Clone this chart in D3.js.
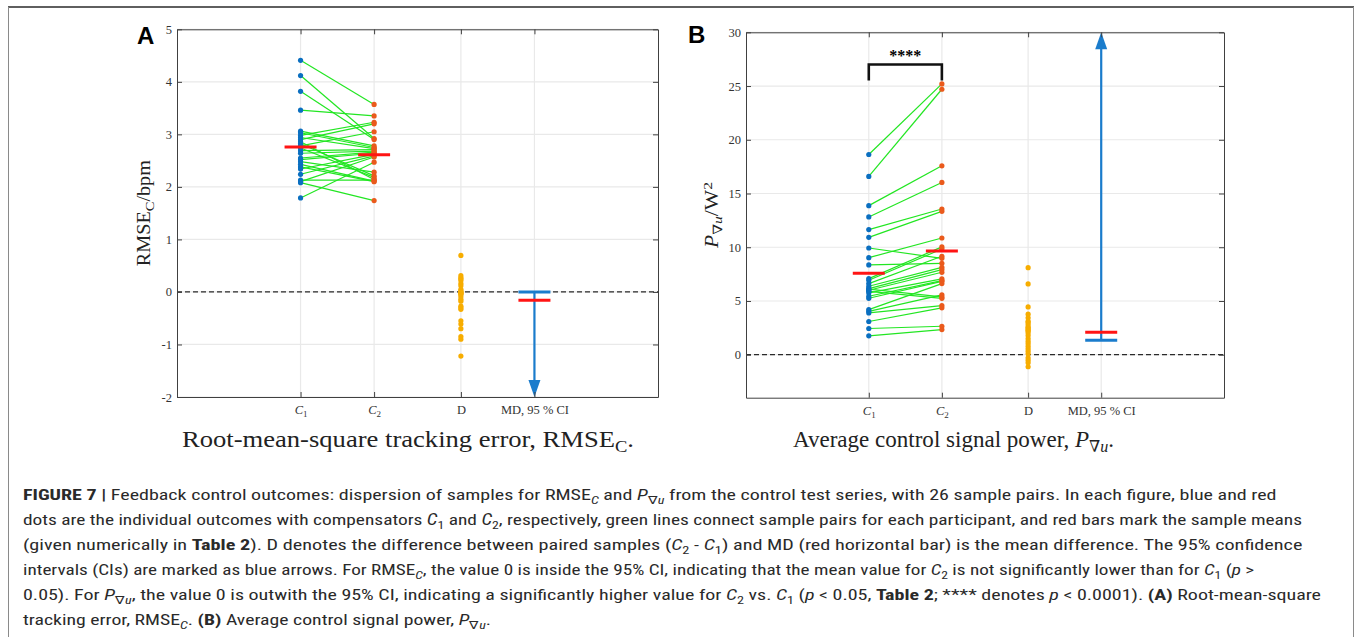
<!DOCTYPE html>
<html><head><meta charset="utf-8">
<script src="https://cdn.jsdelivr.net/npm/d3@7"></script>
<style>body{margin:0;background:#fff} svg{display:block}</style>
</head><body>
<svg id="c" width="1354" height="637"></svg>
<script>
// ---------- DATA ----------
const categories = ["C1", "C2", "D", "MD, 95 % CI"];
// Panel A : RMSE_C (bpm)
const rmseC1 = [4.41, 4.12, 3.82, 3.46, 2.86, 2.82, 2.74, 1.79, 2.08, 2.38, 2.43, 2.98, 2.90, 2.78, 2.48, 2.13, 3.06, 3.03, 2.94, 2.69, 2.64, 2.55, 2.52, 2.34, 2.24, 2.10];
const rmseC2 = [3.57, 2.92, 2.90, 3.35, 2.14, 2.21, 2.18, 2.47, 1.74, 2.10, 2.11, 3.23, 3.20, 3.05, 2.28, 2.13, 2.78, 2.75, 2.73, 2.71, 2.68, 2.66, 2.64, 2.62, 2.59, 2.57];
const rmseD  = [0.695, 0.31, 0.27, 0.25, 0.22, 0.16, 0.12, 0.05, 0.02, 0.0, -0.01, -0.03, -0.03, -0.05, -0.09, -0.14, -0.175, -0.27, -0.30, -0.33, -0.55, -0.61, -0.70, -0.85, -0.90, -1.22];
const rmseMeans = [2.76, 2.61];
const rmseMD = -0.16;
const rmseCI = [-2.6, 0.0];
const rmseTicks = [-2, -1, 0, 1, 2, 3, 4, 5];
// Panel B : P_grad u (W^2)
const powC1 = [18.63, 16.59, 13.87, 12.82, 11.64, 10.92, 9.93, 9.03, 8.35, 7.08, 6.93, 6.62, 6.37, 6.15, 6.10, 6.00, 5.90, 5.75, 5.44, 5.25, 4.20, 4.04, 3.89, 3.09, 2.44, 1.76];
const powC2 = [25.2, 24.7, 17.58, 16.03, 13.56, 13.34, 8.97, 10.86, 8.50, 10.03, 9.84, 9.16, 8.13, 7.92, 5.38, 7.67, 5.25, 7.05, 6.90, 6.83, 6.62, 5.57, 4.57, 4.36, 2.65, 2.34];
const powD   = [8.10, 6.59, 4.45, 3.77, 3.43, 3.12, 3.00, 2.81, 2.60, 2.50, 2.40, 2.28, 2.20, 2.03, 1.78, 1.51, 1.26, 1.04, 0.79, 0.55, 0.33, 0.08, -0.29, -0.51, -0.75, -1.12];
const powMeans = [7.58, 9.65];
const powMD = 2.09;
const powCI = [1.35, 31];
const powTicks = [0, 5, 10, 15, 20, 25, 30];
const powSig = {level: 27, label: "****"};

// ---------- LAYOUT ----------
const xCat = [1, 2, 3.18, 4.18];
const xDomain = [-0.68, 5.86];
const COL = {c1: "#0a6fc0", c2: "#ea5a1c", line: "#22e622", d: "#f7ad00", mean: "#ff1414", ci: "#1a7ccc", axis: "#404040", grid: "#e9e9e9"};
const serif = "'Liberation Serif','DejaVu Serif',serif";
const sans = "'Liberation Sans Narrow','Roboto Condensed',Roboto,'Liberation Sans',Arial,sans-serif";

const svg = d3.select("#c");
svg.append("rect").attr("width", 1354).attr("height", 637).attr("fill", "#fff");
// frame
svg.append("line").attr("x1", 8).attr("x2", 1354).attr("y1", 7).attr("y2", 7).attr("stroke", "#2a2a2a").attr("stroke-width", 1.5);
svg.append("line").attr("x1", 8.5).attr("x2", 8.5).attr("y1", 7).attr("y2", 637).attr("stroke", "#8a8a8a");
svg.append("line").attr("x1", 1353.5).attr("x2", 1353.5).attr("y1", 7).attr("y2", 637).attr("stroke", "#8a8a8a");

// helper: append rich text segments [text, flags]; flags: b bold, i italic, s sub, p sup
function rich(textSel, segs, subSize, shift) {
  let cur = 0;
  segs.forEach(([t, f = ""]) => {
    const target = f.includes("s") ? shift : f.includes("p") ? -shift * 1.4 : 0;
    const ts = textSel.append("tspan").text(t);
    if (target !== cur) { ts.attr("dy", target - cur); cur = target; }
    if (f.includes("b")) ts.attr("font-weight", "bold");
    if (f.includes("i")) ts.attr("font-style", "italic");
    if (f.includes("s") || f.includes("p")) ts.attr("font-size", subSize);
  });
}

const panels = [
  {label: "A", lx: 137, ly: 44, x0: 177, x1: 658, y0: 29.3, y1: 397, yDom: [-2, 5], ticks: rmseTicks,
   c1: rmseC1, c2: rmseC2, d: rmseD, means: rmseMeans, md: rmseMD, ci: rmseCI,
   ylab: [["RMSE"], ["C", "s"], ["/bpm"]], ylx: 150, yllen: 106,
   title: [["Root-mean-square tracking error, RMSE"], ["C", "s"], ["."]], tx0: 182, tx1: 634},
  {label: "B", lx: 688, ly: 43, x0: 746, x1: 1224, y0: 32.3, y1: 397.7, yDom: [-4, 30], ticks: powTicks,
   c1: powC1, c2: powC2, d: powD, means: powMeans, md: powMD, ci: powCI, sig: powSig,
   ylab: [["P", "i"], ["∇", "s"], ["u", "si"], ["/W"], ["2", "p"]], ylx: 718, yllen: 66,
   title: [["Average control signal power, "], ["P", "i"], ["∇", "s"], ["u", "si"], ["."]], tx0: 793, tx1: 1114}
];

panels.forEach(p => {
  const x = d3.scaleLinear().domain(xDomain).range([p.x0, p.x1]);
  const y = d3.scaleLinear().domain(p.yDom).range([p.y1, p.y0]);
  const g = svg.append("g");
  // grid
  g.selectAll("line.gy").data(p.ticks).join("line").attr("class", "gy")
    .attr("x1", p.x0).attr("x2", p.x1).attr("y1", d => y(d)).attr("y2", d => y(d))
    .attr("stroke", COL.grid).attr("stroke-width", 1.2);
  g.selectAll("line.gx").data(xCat).join("line").attr("class", "gx")
    .attr("x1", d => x(d)).attr("x2", d => x(d)).attr("y1", p.y0).attr("y2", p.y1)
    .attr("stroke", COL.grid).attr("stroke-width", 1.2);
  // zero line
  g.append("line").attr("x1", p.x0).attr("x2", p.x1).attr("y1", y(0)).attr("y2", y(0))
    .attr("stroke", "#2a2a2a").attr("stroke-width", 1.2).attr("stroke-dasharray", "5,3");
  // pair lines
  const pairs = d3.zip(p.c1, p.c2);
  g.selectAll("line.pair").data(pairs).join("line").attr("class", "pair")
    .attr("x1", x(xCat[0])).attr("x2", x(xCat[1])).attr("y1", d => y(d[0])).attr("y2", d => y(d[1]))
    .attr("stroke", COL.line).attr("stroke-width", 1.2);
  // dots
  g.selectAll("circle.c1").data(p.c1).join("circle").attr("class", "c1")
    .attr("cx", x(xCat[0])).attr("cy", d => y(d)).attr("r", 2.6).attr("fill", COL.c1);
  g.selectAll("circle.c2").data(p.c2).join("circle").attr("class", "c2")
    .attr("cx", x(xCat[1])).attr("cy", d => y(d)).attr("r", 2.6).attr("fill", COL.c2);
  g.selectAll("circle.dd").data(p.d).join("circle").attr("class", "dd")
    .attr("cx", x(xCat[2])).attr("cy", d => y(d)).attr("r", 2.6).attr("fill", COL.d);
  // CI arrow
  const xm = x(xCat[3]);
  const [lo, hi] = p.ci;
  const inLo = lo >= p.yDom[0], inHi = hi <= p.yDom[1];
  const yLo = y(Math.max(lo, p.yDom[0])), yHi = y(Math.min(hi, p.yDom[1]));
  const head = 17, hw = 6;
  let s1 = yLo, s2 = yHi;
  if (!inLo) s1 = yLo - head + 1;
  if (!inHi) s2 = yHi + head - 1;
  g.append("line").attr("x1", xm).attr("x2", xm).attr("y1", s1).attr("y2", s2)
    .attr("stroke", COL.ci).attr("stroke-width", 2.2);
  [[inLo, yLo, 1], [inHi, yHi, -1]].forEach(([inside, yy, dir]) => {
    if (inside) {
      g.append("line").attr("x1", xm - 16).attr("x2", xm + 16).attr("y1", yy).attr("y2", yy)
        .attr("stroke", COL.ci).attr("stroke-width", 3);
    } else {
      g.append("path").attr("d", `M${xm},${yy} L${xm - hw},${yy - dir * head} L${xm + hw},${yy - dir * head} Z`)
        .attr("fill", COL.ci);
    }
  });
  // mean bars
  const meanData = [[xCat[0], p.means[0]], [xCat[1], p.means[1]], [xCat[3], p.md]];
  g.selectAll("line.mean").data(meanData).join("line").attr("class", "mean")
    .attr("x1", d => x(d[0]) - 16).attr("x2", d => x(d[0]) + 16).attr("y1", d => y(d[1])).attr("y2", d => y(d[1]))
    .attr("stroke", COL.mean).attr("stroke-width", 3);
  // significance bracket
  if (p.sig) {
    const yb = y(p.sig.level);
    g.append("path").attr("d", `M${x(xCat[0])},${yb + 16} V${yb} H${x(xCat[1])} V${yb + 16}`)
      .attr("fill", "none").attr("stroke", "#111").attr("stroke-width", 2.6);
    g.append("text").attr("x", (x(xCat[0]) + x(xCat[1])) / 2).attr("y", yb - 4)
      .attr("text-anchor", "middle").attr("font-family", serif).attr("font-size", 16).attr("font-weight", "bold")
      .text(p.sig.label);
  }
  // axes
  const styleAxis = sel => { sel.selectAll("path.domain").attr("stroke", COL.axis); sel.selectAll(".tick line").attr("stroke", COL.axis); };
  const aL = g.append("g").attr("transform", `translate(${p.x0},0)`)
    .call(d3.axisLeft(y).tickValues(p.ticks).tickSize(-5).tickSizeOuter(0).tickPadding(5).tickFormat(d3.format("d")));
  const aR = g.append("g").attr("transform", `translate(${p.x1},0)`)
    .call(d3.axisRight(y).tickValues(p.ticks).tickSize(-5).tickSizeOuter(0).tickFormat(""));
  const aB = g.append("g").attr("transform", `translate(0,${p.y1})`)
    .call(d3.axisBottom(x).tickValues(xCat).tickSize(-5).tickSizeOuter(0).tickPadding(8).tickFormat((d, i) => categories[i]));
  const aT = g.append("g").attr("transform", `translate(0,${p.y0})`)
    .call(d3.axisTop(x).tickValues(xCat).tickSize(-5).tickSizeOuter(0).tickFormat(""));
  [aL, aR, aB, aT].forEach(styleAxis);
  [aL, aB].forEach(a => a.selectAll("text").attr("font-family", serif).attr("font-size", 12.5).attr("fill", "#333"));
  aL.selectAll("text").text(d => d < 0 ? "-" + Math.abs(d) : d);
  aB.selectAll(".tick text").each(function (d, i) {
    if (i < 2) {
      const t = d3.select(this).text("");
      rich(t, [["C", "i"], [String(i + 1), "s"]], 9, 3);
    }
  });
  // panel letter
  svg.append("text").attr("x", p.lx).attr("y", p.ly).attr("font-family", "'Liberation Sans',Arial,sans-serif")
    .attr("font-weight", "bold").attr("font-size", 24).text(p.label);
  // y label
  const yl = svg.append("text").attr("transform", `translate(${p.ylx},${(p.y0 + p.y1) / 2}) rotate(-90)`)
    .attr("text-anchor", "middle").attr("font-family", serif).attr("font-size", 18).attr("fill", "#222")
    .attr("textLength", p.yllen).attr("lengthAdjust", "spacingAndGlyphs");
  rich(yl, p.ylab, 13, 4);
  // x title
  const tt = svg.append("text").attr("x", p.tx0).attr("y", 447)
    .attr("font-family", serif).attr("font-size", 23).attr("fill", "#222")
    .attr("textLength", p.tx1 - p.tx0).attr("lengthAdjust", "spacingAndGlyphs");
  rich(tt, p.title, 16, 5);
});

// ---------- CAPTION ----------
const cap = [
  {w: 1277, segs: [["FIGURE 7 | ", "b"], ["Feedback control outcomes: dispersion of samples for RMSE"], ["C", "si"], [" and "], ["P", "i"], ["∇", "s"], ["u", "si"], [" from the control test series, with 26 sample pairs. In each figure, blue and red"]]},
  {w: 1303, segs: [["dots are the individual outcomes with compensators "], ["C", "i"], ["1", "s"], [" and "], ["C", "i"], ["2", "s"], [", respectively, green lines connect sample pairs for each participant, and red bars mark the sample means"]]},
  {w: 1303, segs: [["(given numerically in "], ["Table 2", "b"], ["). D denotes the difference between paired samples ("], ["C", "i"], ["2", "s"], [" - "], ["C", "i"], ["1", "s"], [") and MD (red horizontal bar) is the mean difference. The 95% confidence"]]},
  {w: 1255, segs: [["intervals (CIs) are marked as blue arrows. For RMSE"], ["C", "si"], [", the value 0 is inside the 95% CI, indicating that the mean value for "], ["C", "i"], ["2", "s"], [" is not significantly lower than for "], ["C", "i"], ["1", "s"], [" ("], ["p", "i"], [" >"]]},
  {w: 1321, segs: [["0.05). For "], ["P", "i"], ["∇", "s"], ["u", "si"], [", the value 0 is outwith the 95% CI, indicating a significantly higher value for "], ["C", "i"], ["2", "s"], [" vs. "], ["C", "i"], ["1", "s"], [" ("], ["p", "i"], [" < 0.05, "], ["Table 2", "b"], ["; **** denotes "], ["p", "i"], [" < 0.0001). "], ["(A)", "b"], [" Root-mean-square"]]},
  {w: null, segs: [["tracking error, RMSE"], ["C", "si"], [". "], ["(B)", "b"], [" Average control signal power, "], ["P", "i"], ["∇", "s"], ["u", "si"], ["."]]}
];
const ks = [];
cap.forEach((ln, i) => {
  const gy = 500 + i * 25;
  const g = svg.append("g").attr("transform", `translate(23,${gy})`);
  const t = g.append("text").attr("x", 0).attr("y", 0)
    .attr("font-family", sans).attr("font-size", 15.5).attr("fill", "#2a2a2a");
  rich(t, ln.segs, 11, 3.5);
  const natural = t.node().getComputedTextLength();
  const k = ln.w ? (ln.w - 23) / natural : d3.mean(ks);
  if (ln.w) ks.push(k);
  g.attr("transform", `translate(23,${gy}) scale(${k},1)`);
});
</script>
</body></html>
